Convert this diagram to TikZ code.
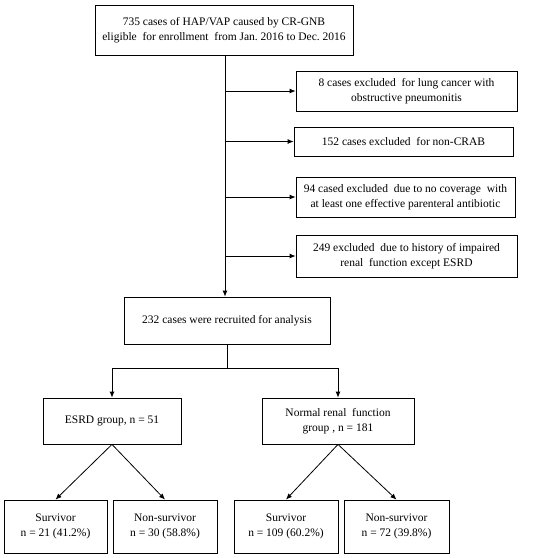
\documentclass[tikz,border=0pt]{standalone}
\usepackage{fontspec}
\setmainfont{Liberation Serif}
\usetikzlibrary{arrows.meta}
\frenchspacing
\begin{document}
\begin{tikzpicture}[x=1pt, y=-1pt, line width=0.8pt,
    >={Latex[length=6pt, width=5pt]},
    box/.style={draw, align=center, inner sep=0pt,
        font=\fontsize{11.5}{15}\selectfont}]
    \useasboundingbox (0,0) rectangle (550,558);

    % Enrollment
    \node[box, minimum width=258pt, minimum height=50pt] (enroll) at (224,30)
        {735 cases of HAP/VAP caused by CR-GNB\\eligible\ \ for enrollment\ \ from Jan. 2016 to Dec. 2016};

    % Exclusions
    \node[box, minimum width=221pt, minimum height=40pt] (excl1) at (406.5,91)
        {8 cases excluded\ \ for lung cancer with\\obstructive pneumonitis};
    \node[box, minimum width=219pt, minimum height=29pt] (excl2) at (403.5,141.5)
        {152 cases excluded\ \ for non-CRAB};
    \node[box, minimum width=219pt, minimum height=40pt] (excl3) at (405.5,197)
        {94 cased excluded\ \ due to no coverage\ \ with\\at least one effective parenteral antibiotic};
    \node[box, minimum width=221pt, minimum height=42pt] (excl4) at (406.5,256)
        {249 excluded\ \ due to history of impaired\\renal\ \ function except ESRD};

    % Recruited
    \node[box, minimum width=206pt, minimum height=47pt] (recruit) at (227,320.5)
        {232 cases were recruited for analysis};

    % Groups
    \node[box, minimum width=138pt, minimum height=46pt] (esrd) at (112,421)
        {ESRD group, n = 51};
    \node[box, minimum width=152pt, minimum height=46pt] (normal) at (338,421)
        {Normal renal\ \ function\\group , n = 181};

    % Outcomes
    \node[box, minimum width=103pt, minimum height=53pt] (esrdsurv) at (55.5,526.5)
        {Survivor\\n = 21 (41.2\%)};
    \node[box, minimum width=104pt, minimum height=53pt] (esrddead) at (165,526.5)
        {Non-survivor\\n = 30 (58.8\%)};
    \node[box, minimum width=104pt, minimum height=53pt] (normsurv) at (286,526.5)
        {Survivor\\n = 109 (60.2\%)};
    \node[box, minimum width=105pt, minimum height=53pt] (normdead) at (396.5,526.5)
        {Non-survivor\\n = 72 (39.8\%)};

    % Trunk and exclusion arrows
    \coordinate (trunk) at (225,55);
    \draw[->] (trunk) -- (trunk |- recruit.north);
    \foreach \ex in {excl1, excl2, excl3, excl4}
        \draw[->] (trunk |- \ex.west) -- (\ex.west);

    % Split into groups
    \coordinate (split) at (227,368);
    \draw (recruit.south) -- (split);
    \draw[->] (split) -| (esrd.north);
    \draw[->] (split) -| (normal.north);

    % Outcomes per group
    \draw[->] (esrd.south) -- (esrdsurv.north);
    \draw[->] (esrd.south) -- (esrddead.north);
    \draw[->] (normal.south) -- (normsurv.north);
    \draw[->] (normal.south) -- (normdead.north);
\end{tikzpicture}
\end{document}
